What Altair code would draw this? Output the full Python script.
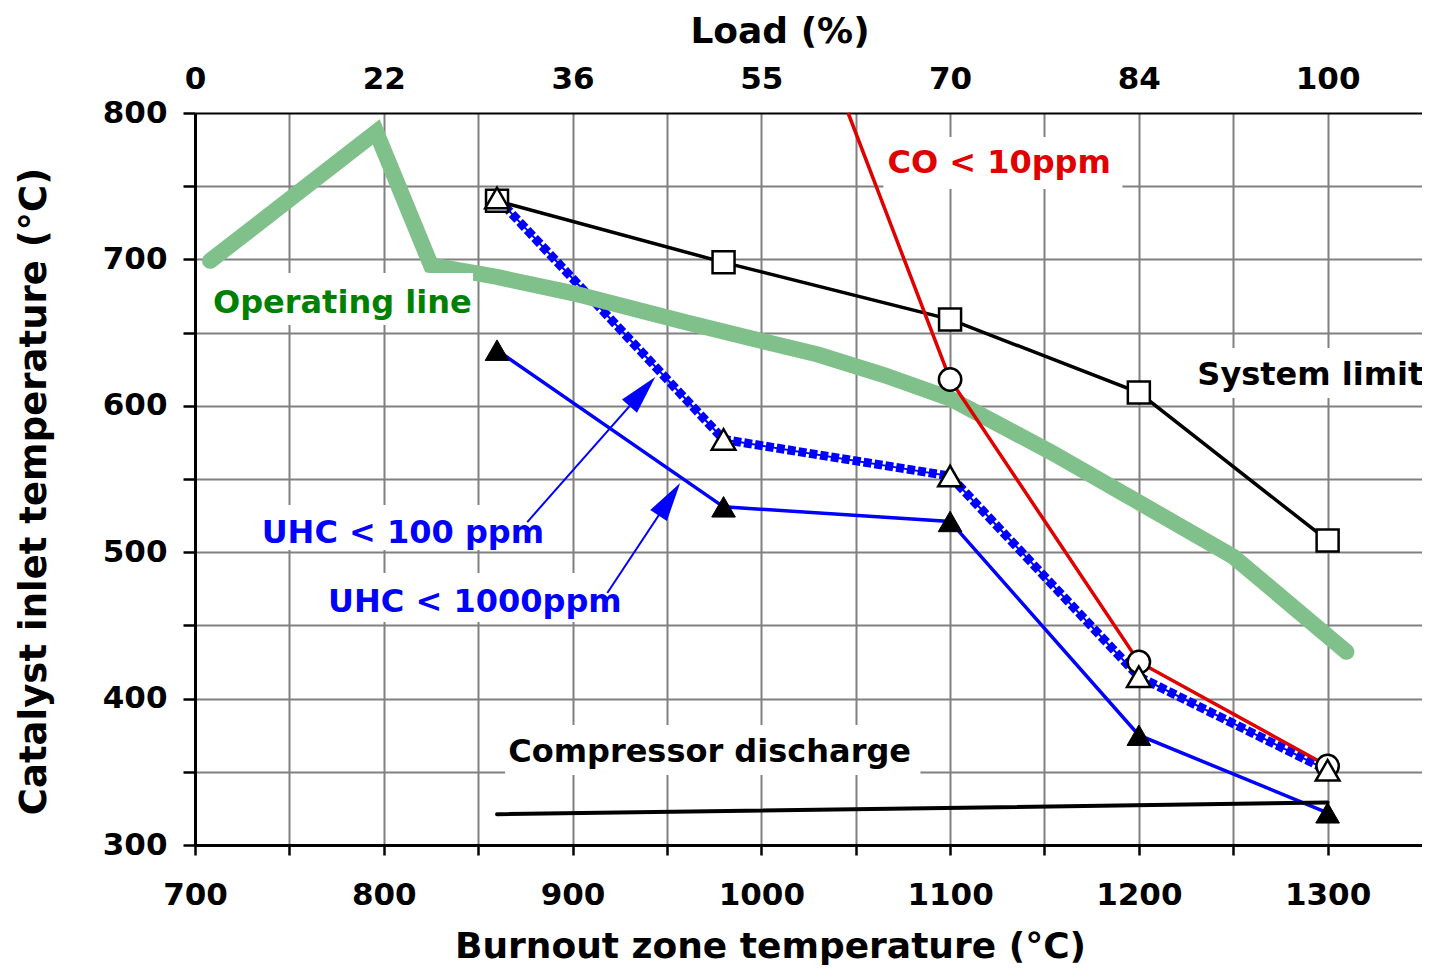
import altair as alt
import pandas as pd

# ---------------- data ----------------
burnout_x = [860, 980, 1100, 1200, 1300]
system_limit = [740, 698, 659, 609, 508]
uhc_100 = [742, 577, 552, 415, 351]
uhc_1000 = [638, 531, 521, 375, 322]

co_x = [1046, 1100, 1200, 1300]
co_y = [800, 618, 425, 354]
co_mark_x = [1100, 1200, 1300]
co_mark_y = [618, 425, 354]

comp_x = [860, 1300]
comp_y = [321, 329]

op_x = [708, 796, 825, 860, 900, 960, 1030, 1065, 1100, 1154, 1200, 1250, 1310]
op_y = [699, 787, 696, 688, 677, 657, 635, 621, 605, 568, 534, 497, 432]

load_pos = [700, 800, 900, 1000, 1100, 1200, 1300]
load_labels = ["0", "22", "36", "55", "70", "84", "100"]

x_ticks = list(range(700, 1301, 50))
y_ticks = list(range(300, 801, 50))

label_text = ["Operating line", "CO < 10ppm", "System limit",
              "Compressor discharge", "UHC < 100 ppm", "UHC < 1000ppm"]
label_x = [709.5, 1066.8, 1231, 865.9, 735.3, 770.5]
label_y = [663.4, 759.0, 614.2, 356.7, 506.3, 459.2]
label_color = ["#008000", "#E00000", "black", "black", "#0000FF", "#0000FF"]
box_x1 = [705.3, 1064.7, 1227.4, 864.3, 731.8, 766.3]
box_x2 = [847.3, 1191.3, 1350, 1084.3, 889.2, 933.2]
box_y1 = [655.2, 748.1, 605.3, 347.8, 501.5, 452.3]
box_y2 = [690.7, 783.6, 639.5, 382, 532.2, 485.8]

arrow_tail_x = [876.0, 918.4]
arrow_tail_y = [520.6, 472.1]
arrow_head_x = [937.0, 951.3]
arrow_head_y = [609.7, 536.2]
arrow_angle = [41.4, 33.6]

# ---------------- tables ----------------
main = pd.DataFrame({"x": burnout_x, "sys": system_limit, "u100": uhc_100, "u1000": uhc_1000})
co = pd.DataFrame({"x": co_x, "y": co_y})
co_m = pd.DataFrame({"x": co_mark_x, "y": co_mark_y})
comp = pd.DataFrame({"x": comp_x, "y": comp_y})
op = pd.DataFrame({"x": op_x, "y": op_y})
labels = pd.DataFrame({"x": label_x, "y": label_y, "t": label_text, "c": label_color,
                       "bx1": box_x1, "bx2": box_x2, "by1": box_y1, "by2": box_y2})
arrows = pd.DataFrame({"x": arrow_tail_x, "y": arrow_tail_y, "hx": arrow_head_x,
                       "hy": arrow_head_y, "a": arrow_angle})
load = pd.DataFrame({"x": load_pos, "t": load_labels})

FONT = "DejaVu Sans"
xs = alt.Scale(domain=[700, 1350], nice=False, zero=False)
ys = alt.Scale(domain=[300, 800], nice=False, zero=False)

x_axis = alt.Axis(
    values=x_ticks, format="d", labelAngle=0,
    labelExpr="datum.value % 100 === 0 ? datum.label : ''",
    title="Burnout zone temperature (°C)",
    titleFont=FONT, titleFontSize=36, titleFontWeight="bold", titleColor="black",
    titleX=575, titleY=112, titleAlign="center", titleBaseline="alphabetic",
    labelFont=FONT, labelFontSize=31, labelFontWeight="bold", labelColor="black",
    labelBaseline="alphabetic", labelPadding=49, labelFlush=False, labelOverlap=False,
    tickSize=10,
    tickWidth=2.5,
    tickColor="black",
    domainColor="black", domainWidth=3,
    grid=True, gridColor="#808080", gridWidth=2,
)
y_axis = alt.Axis(
    values=y_ticks, format="d",
    labelExpr="datum.value % 100 === 0 ? datum.label : ''",
    title="Catalyst inlet temperature (°C)",
    titleFont=FONT, titleFontSize=37, titleFontWeight="bold", titleColor="black",
    titleX=-150, titleY=378, titleAngle=270, titleAlign="center", titleBaseline="alphabetic",
    labelFont=FONT, labelFontSize=31, labelFontWeight="bold", labelColor="black",
    labelPadding=16, labelFlush=False, labelOverlap=False,
    tickSize=12, tickColor="black", tickWidth=2.5,
    domainColor="black", domainWidth=3,
    grid=True, gridWidth=2,
    gridColor={"condition": {"test": "datum.value === 800", "value": "black"}, "value": "#808080"},
)
ternary = "".join(f"datum.value === {p} ? '{t}' : " for p, t in zip(load_pos, load_labels)) + "''"
top_axis = alt.Axis(
    orient="top", values=load_pos, labelExpr=ternary,
    title="Load (%)",
    titleFont=FONT, titleFontSize=36, titleFontWeight="bold", titleColor="black",
    titleX=584.5, titleY=-71, titleAlign="center", titleBaseline="alphabetic",
    labelFont=FONT, labelFontSize=31, labelFontWeight="bold", labelColor="black",
    labelBaseline="alphabetic", labelPadding=25, labelFlush=False, labelOverlap=False,
    ticks=False, domain=False, grid=False,
)


def X(field="x", axis=None):
    return alt.X(f"{field}:Q", scale=xs, axis=axis)


def Y(field="y", axis=None):
    return alt.Y(f"{field}:Q", scale=ys, axis=axis)


base = alt.Chart(main)

u100_thin = base.mark_line(color="#0000FF", strokeWidth=2).encode(x=X(), y=Y("u100"))
u100_dash = base.mark_line(color="#0000FF", strokeWidth=9, strokeDash=[8, 3]).encode(x=X(), y=Y("u100"))
u1000_line = base.mark_line(color="#0000FF", strokeWidth=3.5).encode(x=X(), y=Y("u1000"))
op_line = alt.Chart(op).mark_line(color="#80C08A", strokeWidth=16, strokeCap="round",
                                  strokeJoin="miter").encode(x=X(axis=x_axis), y=Y(axis=y_axis))
sys_line = base.mark_line(color="black", strokeWidth=3.5).encode(x=X(), y=Y("sys"))
co_line = alt.Chart(co).mark_line(color="#E00000", strokeWidth=3.5).encode(x=X(), y=Y())
comp_line = alt.Chart(comp).mark_line(color="black", strokeWidth=4, strokeCap="round").encode(x=X(), y=Y())

sq = base.mark_point(shape="square", size=484, filled=True, fill="white", stroke="black",
                     strokeWidth=2.5, opacity=1).encode(x=X(), y=Y("sys"))
circ = alt.Chart(co_m).mark_point(shape="circle", size=500, filled=True, fill="white", stroke="black",
                                  strokeWidth=2.5, opacity=1).encode(x=X(), y=Y())
tri_open = base.mark_point(shape="triangle-up", size=560, filled=True, fill="white", stroke="black",
                           strokeWidth=2.5, opacity=1).encode(x=X(), y=Y("u100"))
tri_fill = base.mark_point(shape="triangle-up", size=560, filled=True, fill="black", stroke="black",
                           strokeWidth=1, opacity=1).encode(x=X(), y=Y("u1000"))

lab = alt.Chart(labels)
boxes = lab.mark_rect(color="white").encode(x=X("bx1"), x2="bx2:Q", y=Y("by1"), y2="by2:Q")
texts = lab.mark_text(align="left", baseline="alphabetic", font=FONT, fontSize=32,
                      fontWeight="bold").encode(x=X(), y=Y(), text="t:N",
                                                color=alt.Color("c:N", scale=None))

arr = alt.Chart(arrows)
shafts = arr.mark_rule(color="#0000FF", strokeWidth=2).encode(x=X(), y=Y(), x2="hx:Q", y2="hy:Q")
heads = arr.mark_point(shape="M0,-1L0.513,1L-0.513,1Z", size=1521, filled=True, fill="#0000FF",
                       opacity=1, strokeWidth=0).encode(x=X("hx"), y=Y("hy"),
                                                        angle=alt.Angle("a:Q", scale=None))

top = alt.Chart(load).mark_point(opacity=0).encode(x=X(axis=top_axis), y=alt.value(0))

chart = alt.layer(
    u100_thin, u100_dash, u1000_line, op_line, sys_line, co_line, comp_line,
    sq, circ, tri_open, tri_fill, boxes, texts, shafts, heads, top,
).resolve_axis(x="independent", y="independent").properties(
    width=1227, height=732,
    autosize=alt.AutoSizeParams(type="none"),
    padding={"left": 187, "top": 105, "right": 0, "bottom": 123},
).configure_view(stroke="black", strokeWidth=2.5).configure(background="white")

chart.save("out.html", embed_options={"renderer": "svg", "actions": False})
